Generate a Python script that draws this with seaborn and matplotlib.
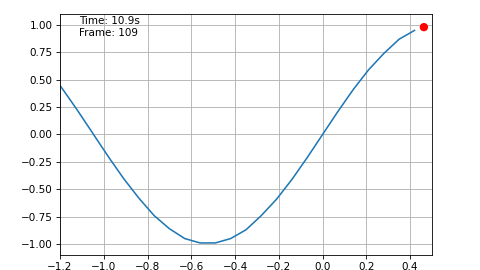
import matplotlib
matplotlib.use("Agg")
import matplotlib.pyplot as plt
import seaborn as sns
import pandas as pd

# Curve samples
x_vals = [-1.26, -1.19, -1.12, -1.05, -0.98, -0.91, -0.84, -0.77, -0.70, -0.63,
          -0.56, -0.49, -0.42, -0.35, -0.28, -0.21, -0.14, -0.07, 0.00, 0.07,
          0.14, 0.21, 0.28, 0.35, 0.42]
y_vals = [0.60, 0.42, 0.22, 0.01, -0.20, -0.40, -0.58, -0.74, -0.86, -0.95,
          -0.99, -0.99, -0.95, -0.87, -0.74, -0.59, -0.41, -0.21, 0.00, 0.21,
          0.41, 0.59, 0.74, 0.87, 0.95]
# Current point (red dot)
dot_x = [0.463]
dot_y = [0.98]
info_text = "Time: 10.9s\nFrame: 109"

df = pd.DataFrame({"x": x_vals, "y": y_vals})
dot = pd.DataFrame({"x": dot_x, "y": dot_y})

fig = plt.figure(figsize=(6.4, 3.6), dpi=75)
ax = fig.add_axes([0.125, 0.0556, 0.775, 0.8926])

sns.lineplot(data=df, x="x", y="y", ax=ax, sort=False, color="#1f77b4", linewidth=1.5)
sns.scatterplot(data=dot, x="x", y="y", ax=ax, color="red", s=64, edgecolor="none", zorder=5)

ax.set_xlim(-1.2, 0.5)
ax.set_ylim(-1.1, 1.1)
ax.set_xticks([-1.2, -1.0, -0.8, -0.6, -0.4, -0.2, 0.0, 0.2, 0.4])
ax.set_yticks([-1.0, -0.75, -0.5, -0.25, 0.0, 0.25, 0.5, 0.75, 1.0])
ax.set_xlabel("")
ax.set_ylabel("")
ax.grid(True)
ax.text(0.05, 0.99, info_text, transform=ax.transAxes, va="top", ha="left", fontsize=10)

fig.savefig("out.png", dpi=75)
